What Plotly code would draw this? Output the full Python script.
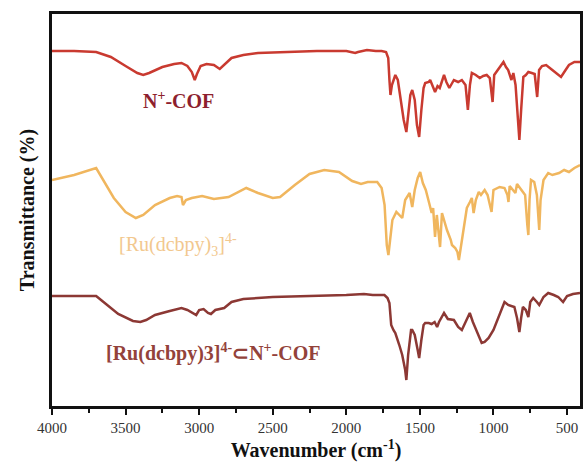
import plotly.graph_objects as go

# FT-IR spectra, stacked with vertical offsets (arbitrary transmittance units)
wn_cof = [4000, 3850, 3700, 3600, 3500, 3420, 3380, 3340, 3250, 3170, 3120, 3080, 3050, 3030, 3015,
          2990, 2950, 2900, 2860, 2840, 2780, 2700, 2600, 2400, 2200, 2000, 1940, 1920, 1860, 1800,
          1760, 1730, 1715, 1707, 1700, 1690, 1667, 1650, 1630, 1610, 1592, 1580, 1565, 1552, 1535,
          1520, 1505, 1490, 1475, 1464, 1440, 1430, 1410, 1397, 1380, 1365, 1336, 1320, 1300, 1285,
          1269, 1240, 1215, 1190, 1174, 1160, 1147, 1120, 1093, 1070, 1046, 1025, 1006, 995, 970,
          932, 915, 900, 878, 865, 850, 835, 824, 812, 797, 780, 763, 740, 720, 703,
          690, 670, 642, 600, 560, 541, 510, 487, 450, 412]
t_cof = [355, 355, 354, 349, 340, 333, 331, 333, 339, 342, 343, 340, 334, 326, 332,
         340, 342, 341, 337, 340, 348, 351, 353, 354, 355, 355, 353, 354, 356, 355,
         355, 354, 348, 326, 311, 321, 331, 326, 306, 286, 274, 288, 311, 316, 306,
         281, 269, 296, 318, 323, 324, 326, 318, 314, 320, 318, 331, 324, 318, 322,
         326, 324, 326, 321, 296, 321, 333, 331, 328, 330, 331, 328, 304, 331, 336,
         344, 339, 336, 326, 333, 321, 286, 266, 296, 329, 331, 334, 333, 332, 309,
         336, 340, 341, 336, 331, 329, 336, 341, 344, 344]

wn_ru = [4000, 3850, 3700, 3650, 3580, 3500, 3430, 3380, 3300, 3200, 3150, 3120, 3110, 3090, 3050,
         2980, 2900, 2800, 2750, 2680, 2600, 2500, 2450, 2350, 2250, 2150, 2050, 1960, 1900, 1855,
         1790, 1760, 1740, 1725, 1714, 1700, 1687, 1660, 1640, 1620, 1600, 1586, 1570, 1552, 1535,
         1515, 1498, 1480, 1460, 1437, 1420, 1410, 1397, 1385, 1363, 1350, 1316, 1290, 1282, 1260,
         1245, 1235, 1225, 1210, 1181, 1160, 1147, 1135, 1120, 1100, 1085, 1060, 1040, 1013, 1000,
         958, 925, 905, 898, 890, 870, 851, 840, 811, 785, 770, 763, 755, 745, 723,
         705, 689, 680, 660, 628, 600, 554, 520, 487, 450, 412]
t_ru = [226, 231, 238, 226, 208, 194, 188, 191, 201, 208, 210, 209, 201, 206, 208,
        210, 207, 209, 213, 218, 213, 208, 209, 221, 232, 236, 234, 225, 222, 224,
        224, 218, 201, 161, 151, 171, 186, 194, 191, 188, 206, 209, 213, 199, 216,
        228, 234, 223, 216, 203, 193, 198, 169, 191, 159, 193, 176, 166, 161, 158,
        154, 146, 156, 166, 198, 204, 208, 193, 206, 214, 211, 216, 211, 194, 216,
        219, 218, 211, 204, 220, 216, 213, 222, 216, 211, 181, 171, 206, 226, 224,
        211, 176, 206, 226, 233, 231, 233, 236, 234, 238, 241]

wn_mix = [4000, 3850, 3700, 3650, 3550, 3450, 3400, 3360, 3300, 3200, 3120, 3080, 3040, 3020, 3000,
          2970, 2940, 2920, 2890, 2860, 2830, 2780, 2700, 2500, 2200, 2000, 1880, 1820, 1741, 1720,
          1707, 1695, 1680, 1667, 1640, 1620, 1600, 1592, 1580, 1560, 1552, 1535, 1515, 1505, 1490,
          1475, 1464, 1440, 1420, 1400, 1383, 1370, 1336, 1310, 1269, 1240, 1215, 1200, 1180, 1161,
          1140, 1110, 1080, 1060, 1033, 1000, 970, 925, 900, 858, 840, 824, 812, 800, 780,
          763, 750, 730, 705, 689, 660, 628, 590, 560, 527, 500, 460, 412]
t_mix = [110, 110, 110, 104, 92, 85, 84, 86, 91, 95, 98, 96, 93, 91, 96,
         97, 93, 92, 96, 97, 98, 104, 107, 109, 110, 111, 112, 111, 111, 108,
         103, 81, 76, 73, 61, 51, 36, 26, 51, 76, 76, 71, 56, 48, 66,
         81, 83, 83, 82, 84, 79, 84, 93, 87, 86, 79, 76, 81, 88, 93,
         84, 73, 63, 64, 68, 76, 88, 104, 101, 99, 88, 74, 88, 99, 96,
         89, 104, 108, 104, 101, 109, 113, 111, 109, 104, 110, 112, 113]

names = ["<b>N<sup>+</sup>-COF</b>",
         "[Ru(dcbpy)<sub>3</sub>]<sup>4-</sup>",
         "<b>[Ru(dcbpy)3]<sup>4-</sup>\u2282N<sup>+</sup>-COF</b>"]
line_colors = ["#c93a30", "#f0b65e", "#8c3834"]
label_colors = ["#8e1f2e", "#f2c88e", "#93423a"]
label_pos = [(3395, 306), (3560, 161), (3645, 54)]

serif = "Liberation Serif, Times New Roman, serif"

fig = go.Figure()
for wn, t, c in zip([wn_cof, wn_ru, wn_mix], [t_cof, t_ru, t_mix], line_colors):
    fig.add_trace(go.Scatter(x=wn, y=t, mode="lines",
                             line=dict(color=c, width=2.5), showlegend=False))

for name, col, (lx, ly) in zip(names, label_colors, label_pos):
    fig.add_annotation(x=lx, y=ly, xref="x", yref="y", text=name, showarrow=False,
                       xanchor="left", yanchor="middle",
                       font=dict(family=serif, size=20, color=col))

fig.update_layout(
    width=586, height=469,
    margin=dict(l=52, r=3, t=14, b=63),
    paper_bgcolor="white", plot_bgcolor="white",
    font=dict(family=serif, color="#222222"),
)
fig.update_xaxes(
    range=[4000, 412], showgrid=False, zeroline=False,
    showline=True, linecolor="#111111", linewidth=2.5, mirror=True,
    tickmode="array", tickvals=[4000, 3500, 3000, 2500, 2000, 1500, 1000, 500],
    ticks="outside", ticklen=6, tickwidth=2, tickcolor="#111111",
    minor=dict(tickmode="array", tickvals=[3750, 3250, 2750, 2250, 1750, 1250, 750],
               ticks="outside", ticklen=4, tickwidth=1.5, tickcolor="#111111"),
    tickfont=dict(family=serif, size=15, color="#333333"),
    title=dict(text="<b>Wavenumber (cm<sup>-1</sup>)</b>", standoff=9,
               font=dict(family=serif, size=20, color="#111111")),
)
fig.update_yaxes(
    range=[0, 392], showgrid=False, zeroline=False,
    showline=True, linecolor="#111111", linewidth=2.5, mirror=True,
    showticklabels=False, ticks="",
    title=dict(text="<b>Transmittance (%)</b>", standoff=10,
               font=dict(family=serif, size=20, color="#111111")),
)

fig.write_html("out.html")
